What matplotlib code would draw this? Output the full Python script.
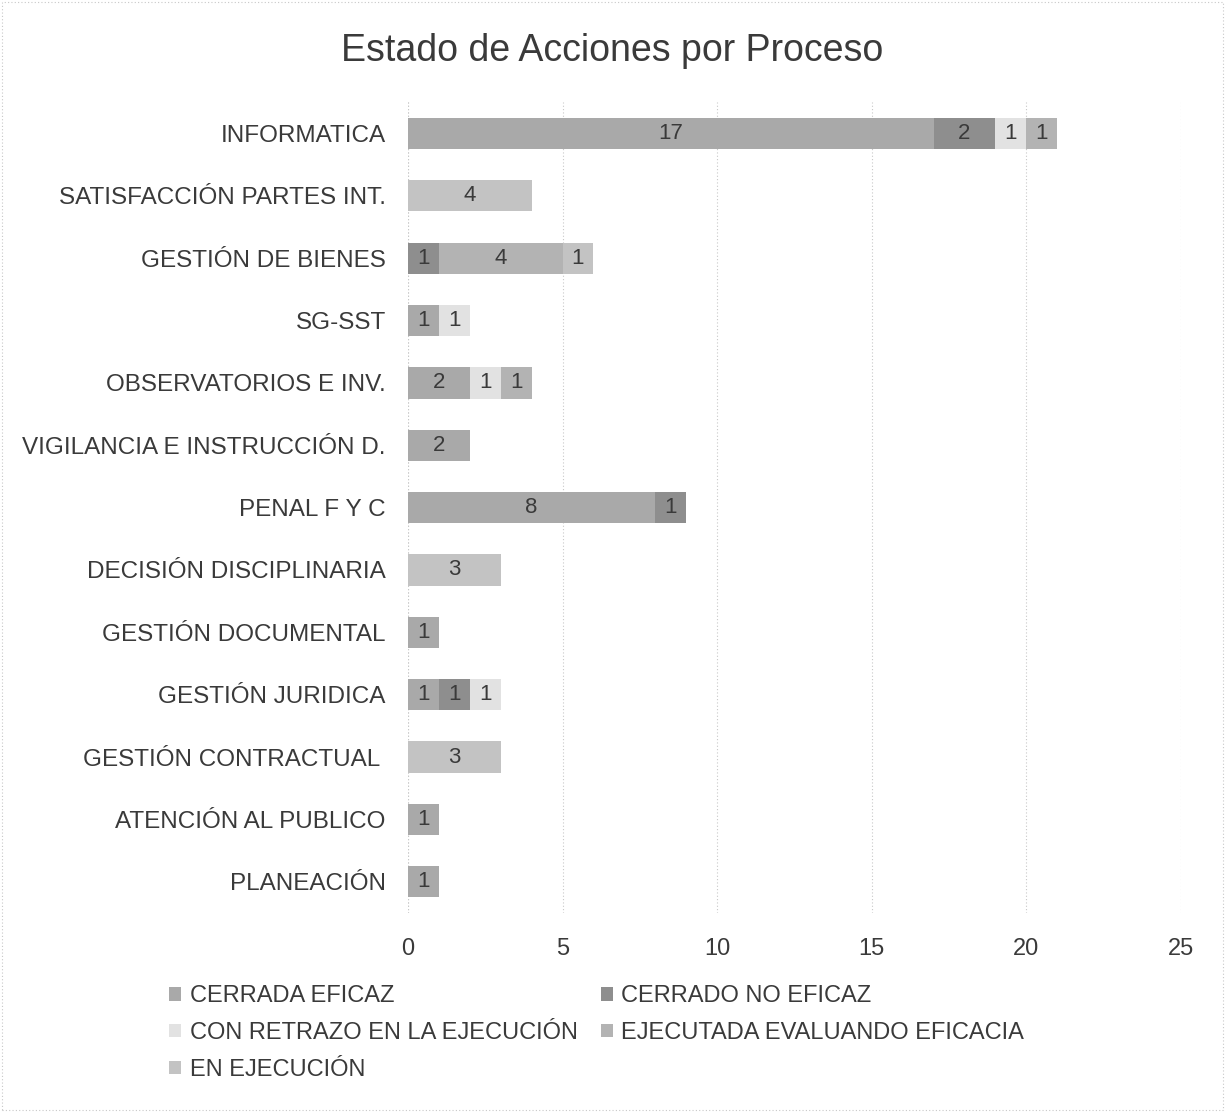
import matplotlib
matplotlib.use("Agg")
import matplotlib.pyplot as plt
import numpy as np
from matplotlib.patches import Rectangle

plt.rcParams['font.family'] = ['Liberation Sans', 'DejaVu Sans']

categories = ["INFORMATICA", "SATISFACCIÓN PARTES INT.", "GESTIÓN DE BIENES", "SG-SST",
              "OBSERVATORIOS E INV.", "VIGILANCIA E INSTRUCCIÓN D.", "PENAL F Y C",
              "DECISIÓN DISCIPLINARIA", "GESTIÓN DOCUMENTAL", "GESTIÓN JURIDICA",
              "GESTIÓN CONTRACTUAL ", "ATENCIÓN AL PUBLICO", "PLANEACIÓN"]
series_names = ["CERRADA EFICAZ", "CERRADO NO EFICAZ", "CON RETRAZO EN LA EJECUCIÓN",
                "EJECUTADA EVALUANDO EFICACIA", "EN EJECUCIÓN"]
cerrada_eficaz      = [17, 0, 0, 1, 2, 2, 8, 0, 1, 1, 0, 1, 1]
cerrado_no_eficaz   = [2, 0, 1, 0, 0, 0, 1, 0, 0, 1, 0, 0, 0]
con_retrazo         = [1, 0, 0, 1, 1, 0, 0, 0, 0, 1, 0, 0, 0]
ejecutada_evaluando = [1, 0, 4, 0, 1, 0, 0, 0, 0, 0, 0, 0, 0]
en_ejecucion        = [0, 4, 1, 0, 0, 0, 0, 3, 0, 0, 3, 0, 0]
x_ticks = [0, 5, 10, 15, 20, 25]

series = [cerrada_eficaz, cerrado_no_eficaz, con_retrazo, ejecutada_evaluando, en_ejecucion]
colors = ["#a9a9a9", "#8e8e8e", "#e2e2e2", "#b3b3b3", "#c3c3c3"]
txt = "#3a3a3a"

fig = plt.figure(figsize=(12.25, 11.12), dpi=100)
fig.patches.append(Rectangle((0.002, 0.002), 0.996, 0.996, transform=fig.transFigure,
                             fill=False, edgecolor="#c8c8c8", linewidth=0.8,
                             linestyle=(0, (1, 2))))
ax = fig.add_axes([0.333, 0.179, 0.631, 0.729])

y = np.arange(len(categories))
left = np.zeros(len(categories))
handles = []
for name, vals, c in zip(series_names, series, colors):
    vals = np.array(vals, dtype=float)
    bars = ax.barh(y, vals, left=left, height=0.5, color=c, label=name, zorder=3)
    handles.append(bars)
    for yi, v, l in zip(y, vals, left):
        if v > 0:
            ax.text(l + v / 2, yi, f"{int(v)}", ha='center', va='center',
                    fontsize=16, color=txt, zorder=4)
    left += vals

ax.set_ylim(len(categories) - 0.5, -0.5)
ax.set_xlim(0, 25)
ax.set_yticks(y)
ax.set_yticklabels(categories, fontsize=17.5, color=txt)
ax.set_xticks(x_ticks)
ax.set_xticklabels([str(t) for t in x_ticks], fontsize=17, color=txt)
ax.tick_params(axis='both', length=0)
ax.tick_params(axis='y', pad=16)
ax.tick_params(axis='x', pad=18)
for s in ax.spines.values():
    s.set_visible(False)
ax.xaxis.grid(True, color="#c8c8c8", linestyle=(0, (1, 2)), linewidth=0.8, zorder=0)
ax.axvline(0, color="#c8c8c8", linestyle=(0, (1, 2)), linewidth=0.8, zorder=0)

fig.suptitle("Estado de Acciones por Proceso", fontsize=27, color=txt, y=0.97)

order = [0, 2, 4, 1, 3]
leg = fig.legend([handles[i] for i in order], [series_names[i] for i in order],
                 ncol=2, loc='upper left', bbox_to_anchor=(0.121, 0.133),
                 frameon=False, fontsize=17, handlelength=0.5, handleheight=0.5,
                 handletextpad=0.35, columnspacing=1.0, labelspacing=0.62,
                 labelcolor=txt)

fig.savefig("out.png", dpi=100)
